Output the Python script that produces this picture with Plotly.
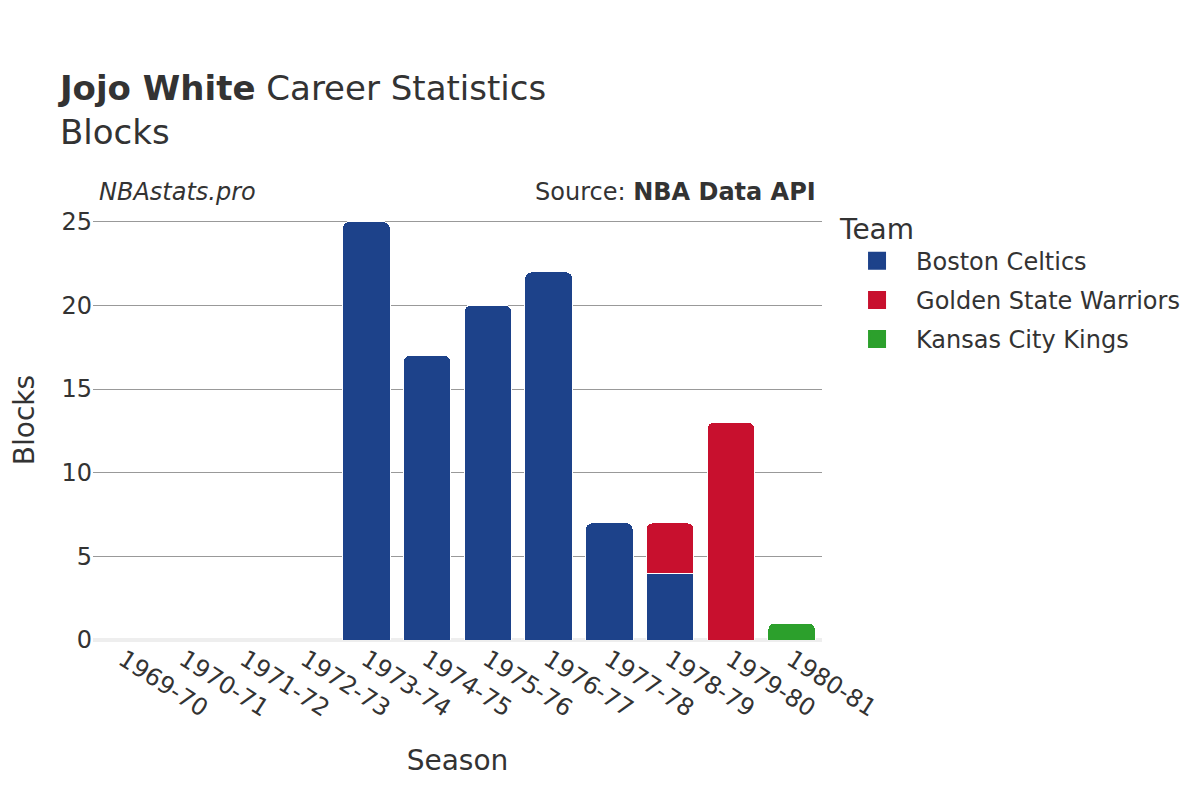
import plotly.graph_objects as go

seasons = ["1969-70", "1970-71", "1971-72", "1972-73", "1973-74", "1974-75",
           "1975-76", "1976-77", "1977-78", "1978-79", "1979-80", "1980-81"]
boston = [0, 0, 0, 0, 25, 17, 20, 22, 7, 4, None, None]
gsw = [None, None, None, None, None, None, None, None, None, 3, 13, None]
kck = [None, None, None, None, None, None, None, None, None, None, None, 1]

teams = ["Boston Celtics", "Golden State Warriors", "Kansas City Kings"]
values = [boston, gsw, kck]
colors = ["#1d428a", "#c8102e", "#2ca02c"]

fig = go.Figure()
for name, vals, col in zip(teams, values, colors):
    fig.add_trace(go.Bar(
        x=seasons, y=vals, name=name, showlegend=False, legendgroup=name,
        marker=dict(color=col, line=dict(color="white", width=1)),
    ))
for name, col in zip(teams, colors):
    fig.add_trace(go.Scatter(
        x=[None], y=[None], mode="markers", name=name, legendgroup=name,
        marker=dict(symbol="square", size=20, color=col,
                    line=dict(color=col, width=2)),
    ))

font = "DejaVu Sans"
fig.update_layout(
    barmode="stack",
    barcornerradius=6,
    bargap=0.22,
    width=1200, height=800,
    paper_bgcolor="white", plot_bgcolor="white",
    font=dict(family=font, color="#333333", size=20),
    margin=dict(l=85, r=386, t=192, b=168),
    title=dict(
        text="<b>Jojo White</b> Career Statistics<br>Blocks",
        x=0.0433, xanchor="left", y=0.885, yanchor="top",
        font=dict(size=34, family=font, color="#333333"),
    ),
    legend=dict(
        title=dict(text="Team", font=dict(size=28)),
        font=dict(size=24),
        x=1.022, xanchor="left", y=0.995, yanchor="top",
        traceorder="grouped", itemwidth=68,
        tracegroupgap=5,
    ),
    xaxis=dict(
        title=dict(text="Season", font=dict(size=28), standoff=28),
        tickangle=33, tickfont=dict(size=24),
        showgrid=False, automargin=False,
    ),
    yaxis=dict(
        title=dict(text="Blocks", font=dict(size=28), standoff=28),
        tickfont=dict(size=24),
        showgrid=True, gridcolor="#999999", gridwidth=1,
        zeroline=True, zerolinecolor="#eeeeee", zerolinewidth=4,
        range=[0, 26.3], dtick=5, automargin=False,
    ),
    annotations=[
        dict(text="<i>NBAstats.pro</i>", xref="paper", yref="paper",
             x=0.005, y=1.0, xanchor="left", yanchor="bottom", yshift=-8,
             showarrow=False, font=dict(size=24, family=font, color="#333333")),
        dict(text="Source: <b>NBA Data API</b>", xref="paper", yref="paper",
             x=0.995, y=1.0, xanchor="right", yanchor="bottom", yshift=-8,
             showarrow=False, font=dict(size=24, family=font, color="#333333")),
    ],
)

fig.write_html("out.html")
